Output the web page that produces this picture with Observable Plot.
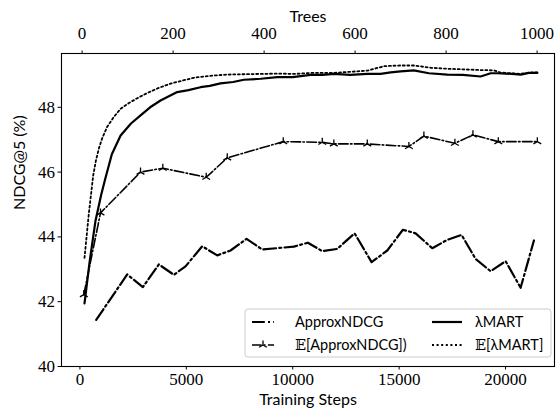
<!DOCTYPE html>
<html>
<head>
<meta charset="utf-8">
<script src="https://cdn.jsdelivr.net/npm/d3@7"></script>
<script src="https://cdn.jsdelivr.net/npm/@observablehq/plot@0.6"></script>
<style>
  html, body { margin: 0; padding: 0; background: #fff; }
  #chart { position: relative; width: 556px; height: 410px; }
</style>
</head>
<body>
<div id="chart"></div>
<script>
// ---- data ----
const approxSteps = [766, 2223, 2958, 3710, 4415, 4963, 5748, 6453, 7078, 7830, 8568, 10053, 10710, 11388, 12093, 12906, 13705, 14443, 15176, 15773, 16558, 17263, 17935, 18593, 19298, 20003, 20708, 21334];
const approxVals  = [41.44, 42.84, 42.45, 43.15, 42.83, 43.09, 43.71, 43.43, 43.58, 43.94, 43.61, 43.70, 43.82, 43.56, 43.63, 44.11, 43.22, 43.58, 44.22, 44.11, 43.65, 43.91, 44.06, 43.32, 42.94, 43.25, 42.43, 43.89];

const eApproxSteps = [183, 968, 2848, 3896, 5936, 6923, 9555, 11388, 11933, 13503, 15458, 16163, 17620, 18466, 19660, 21493];
const eApproxVals  = [42.22, 44.74, 46.00, 46.12, 45.84, 46.44, 46.94, 46.92, 46.87, 46.87, 46.79, 47.11, 46.89, 47.15, 46.94, 46.94];

const lmartSteps = [216, 450, 733, 1000, 1170, 1500, 1913, 2400, 2850, 3300, 3788, 4573, 5100, 5668, 6100, 6608, 7200, 7703, 8500, 9273, 10000, 10838, 11400, 11934, 12700, 13503, 14128, 14600, 15070, 15688, 16400, 17263, 18000, 18828, 19300, 19613, 20300, 20708, 21100, 21493];
const lmartVals  = [41.95, 43.20, 44.50, 45.30, 45.74, 46.55, 47.13, 47.50, 47.75, 48.00, 48.21, 48.47, 48.53, 48.62, 48.66, 48.74, 48.78, 48.85, 48.88, 48.93, 48.93, 49.00, 49.00, 49.03, 49.00, 49.03, 49.03, 49.08, 49.11, 49.14, 49.05, 49.01, 49.00, 48.95, 49.05, 49.05, 49.03, 49.01, 49.06, 49.06];

const eLmartSteps = [216, 418, 625, 750, 900, 1050, 1283, 1593, 1908, 2298, 2693, 3163, 3708, 4258, 4800, 5353, 6100, 6923, 7700, 8488, 9300, 10100, 10838, 11934, 12800, 13503, 14300, 15070, 15688, 16478, 17263, 18044, 18800, 19455, 19770, 20300, 20708, 21100, 21493];
const eLmartVals  = [43.35, 44.71, 45.90, 46.35, 46.75, 47.05, 47.40, 47.70, 47.95, 48.13, 48.28, 48.44, 48.60, 48.73, 48.82, 48.91, 48.97, 49.01, 49.02, 49.03, 49.04, 49.03, 49.06, 49.06, 49.10, 49.13, 49.27, 49.29, 49.29, 49.22, 49.19, 49.17, 49.15, 49.14, 49.07, 49.05, 49.03, 49.07, 49.08];

const stepTicks = [0, 5000, 10000, 15000, 20000];
const treeTicks = [0, 200, 400, 600, 800, 1000];
const yTicks = [40, 42, 44, 46, 48];

// legend labels: [prefix, rest]; prefix is the blackboard E where present
const legendLabels = [["", "ApproxNDCG"], ["\u{1D53C}", "[ApproxNDCG])"], ["", "\u03BBMART"], ["\u{1D53C}", "[\u03BBMART]"]];

// twin-axis relation: steps = a + b * trees
const treeA = 103.4, treeB = 21.38;
const treesToSteps = t => treeA + treeB * t;

const toRows = (xs, ys) => xs.map((x, i) => ({x, y: ys[i]}));
const approx = toRows(approxSteps, approxVals);
const eApprox = toRows(eApproxSteps, eApproxVals);
const lmart = toRows(lmartSteps, lmartVals);
const eLmart = toRows(eLmartSteps, eLmartVals);

const serif = "'Liberation Serif', 'DejaVu Serif', serif";
const sans = "Lato, 'DejaVu Sans', sans-serif";
const fsTick = 17;
const fsLabel = 16;

// tri_up marker symbol
const triUp = {
  draw(ctx, size) {
    const r = Math.sqrt(size / Math.PI);
    const c = Math.cos(Math.PI / 6) * r, s = 0.5 * r;
    ctx.moveTo(0, 0); ctx.lineTo(0, -r);
    ctx.moveTo(0, 0); ctx.lineTo(c, s);
    ctx.moveTo(0, 0); ctx.lineTo(-c, s);
  }
};

const dashApprox = "12.8,3.2,2,3.2";
const dashEApprox = "9.6,2.4,1.5,2.4";
const dotted = "2,2.6";

const plot = Plot.plot({
  width: 556,
  height: 410,
  marginLeft: 61,
  marginRight: 2,
  marginTop: 53,
  marginBottom: 44,
  style: {background: "white", overflow: "visible"},
  x: {domain: [-865, 22300]},
  y: {domain: [40, 49.66]},
  marks: [
    Plot.line(approx, {x: "x", y: "y", stroke: "black", strokeWidth: 2.2, strokeDasharray: dashApprox}),
    Plot.line(eApprox, {x: "x", y: "y", stroke: "black", strokeWidth: 1.6, strokeDasharray: dashEApprox}),
    Plot.dot(eApprox, {x: "x", y: "y", symbol: triUp, r: 4.5, stroke: "black", strokeWidth: 1.3, fill: "none"}),
    Plot.line(eLmart, {x: "x", y: "y", stroke: "black", strokeWidth: 1.8, strokeDasharray: dotted}),
    Plot.line(lmart, {x: "x", y: "y", stroke: "black", strokeWidth: 2.2}),
    Plot.frame({stroke: "black", strokeWidth: 1.1}),
    Plot.axisX(stepTicks, {anchor: "bottom", tickSize: 3.5, tickPadding: 3, tickFormat: d => String(d), fontSize: fsTick, fontFamily: serif, label: null}),
    Plot.axisX(treeTicks.map(treesToSteps), {anchor: "top", tickSize: 3.5, tickPadding: 11, tickFormat: d => String(Math.round((d - treeA) / treeB)), fontSize: fsTick, fontFamily: serif, label: null}),
    Plot.axisY(yTicks, {anchor: "left", tickSize: 3.5, tickPadding: 3, tickFormat: d => String(d), fontSize: fsTick, fontFamily: serif, label: null}),
    Plot.text(["Training Steps"], {frameAnchor: "bottom", dy: 38.5, fontSize: fsLabel, fontFamily: sans, fill: "black"}),
    Plot.text(["Trees"], {frameAnchor: "top", dy: -43, fontSize: fsLabel, fontFamily: sans, fill: "black"}),
    Plot.text(["NDCG@5 (%)"], {frameAnchor: "left", dx: -42, rotate: -90, fontSize: fsLabel, fontFamily: sans, fill: "black"})
  ]
});

// legend inside the axes (lower right), built from the series labels
const svg = d3.select(plot);
const lg = svg.append("g").attr("transform", "translate(245,309)");
lg.append("rect").attr("x", 0).attr("y", 0).attr("width", 306).attr("height", 48).attr("rx", 3)
  .attr("fill", "white").attr("fill-opacity", 0.8).attr("stroke", "#cccccc").attr("stroke-width", 1);
const entries = [
  {label: legendLabels[0], col: 0, row: 0, w: 2.2, dash: dashApprox, marker: false},
  {label: legendLabels[1], col: 0, row: 1, w: 1.6, dash: dashEApprox, marker: true},
  {label: legendLabels[2], col: 1, row: 0, w: 2.2, dash: null, marker: false},
  {label: legendLabels[3], col: 1, row: 1, w: 1.8, dash: dotted, marker: false}
];
const colX = [7, 187], rowY = [13, 36], handleLen = [22, 30], textX = [50, 230];
for (const e of entries) {
  const x0 = colX[e.col], yy = rowY[e.row], hl = handleLen[e.col];
  lg.append("line").attr("x1", x0).attr("x2", x0 + hl).attr("y1", yy).attr("y2", yy)
    .attr("stroke", "black").attr("stroke-width", e.w).attr("stroke-dasharray", e.dash);
  if (e.marker) {
    const p = d3.path(); triUp.draw(p, Math.PI * 4.5 * 4.5);
    lg.append("path").attr("d", p.toString()).attr("transform", `translate(${x0 + hl / 2},${yy})`)
      .attr("stroke", "black").attr("stroke-width", 1.3).attr("fill", "none");
  }
  const t = lg.append("text").attr("x", textX[e.col]).attr("y", yy).attr("dy", "0.35em")
    .attr("text-anchor", "start")
    .attr("font-family", sans).attr("font-size", 14.5).attr("fill", "black");
  if (e.label[0]) t.append("tspan").attr("font-family", "'DejaVu Serif', 'DejaVu Sans', serif").attr("fill", "black").text(e.label[0]);
  t.append("tspan").text(e.label[1]);
}

document.getElementById("chart").appendChild(plot);
</script>
</body>
</html>
